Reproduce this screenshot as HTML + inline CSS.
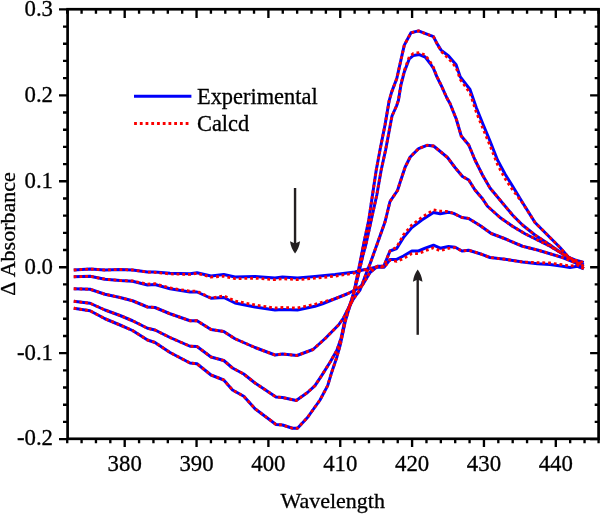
<!DOCTYPE html>
<html><head><meta charset="utf-8"><title>Chart</title>
<style>
html,body{margin:0;padding:0;background:#fff;}
body{width:600px;height:514px;overflow:hidden;font-family:"Liberation Serif",serif;}
svg{display:block;}
</style></head><body>
<svg width="600" height="514" viewBox="0 0 600 514">
<defs><filter id="idf" x="0" y="0" width="600" height="514" filterUnits="userSpaceOnUse" color-interpolation-filters="sRGB"><feOffset dx="0" dy="0"/></filter></defs>
<rect width="600" height="514" fill="#fff"/>
<g fill="none" stroke-linejoin="round" stroke-linecap="butt">
<path d="M73.75 270.00 L90.00 269.00 L105.00 270.00 L120.00 269.50 L132.50 270.00 L147.50 272.00 L155.00 272.00 L170.00 273.25 L190.00 273.75 L197.00 272.70 L211.00 276.00 L223.75 274.50 L235.00 277.00 L255.00 276.50 L275.00 278.00 L282.50 277.00 L297.50 278.00 L315.00 276.50 L335.00 274.50 L355.00 272.00 L362.50 270.00 L370.00 268.75 L376.25 267.00 L384.20 267.20 L390.00 259.60 L396.70 259.40 L403.40 256.00 L411.80 251.00 L418.50 251.00 L425.20 248.20 L433.50 245.20 L440.20 248.20 L448.50 246.50 L455.20 247.20 L462.00 251.00 L468.60 250.20 L480.00 253.70 L490.00 257.50 L505.00 259.25 L522.50 262.00 L537.50 263.75 L550.00 264.50 L562.50 266.25 L570.00 267.50 L577.50 266.25 L583.75 268.75" stroke="#0000fa" stroke-width="3.0"/>
<path d="M73.75 276.75 L90.00 276.25 L105.00 279.25 L120.00 280.50 L132.50 281.25 L147.50 285.00 L155.00 284.50 L170.00 288.75 L190.00 292.00 L197.00 292.00 L211.00 298.25 L223.75 297.50 L235.00 303.00 L255.00 307.00 L275.00 310.00 L282.50 309.50 L297.50 310.00 L315.00 306.25 L322.50 303.75 L335.00 298.75 L347.50 293.75 L355.00 290.00 L362.50 285.00 L370.00 272.50 L377.50 266.25 L383.75 266.25 L390.00 251.00 L396.70 248.50 L403.40 237.60 L411.80 227.60 L421.80 220.00 L433.50 212.50 L440.20 213.70 L448.50 212.20 L453.60 213.40 L462.00 217.50 L468.60 218.40 L480.00 225.50 L491.25 233.50 L505.00 238.75 L522.50 246.25 L537.50 250.00 L550.00 253.75 L562.50 257.50 L575.00 262.50 L583.75 268.75" stroke="#0000fa" stroke-width="3.0"/>
<path d="M73.75 288.75 L90.00 289.25 L105.00 294.25 L120.00 297.50 L132.50 300.75 L147.50 307.00 L155.00 307.50 L170.00 313.75 L190.00 320.75 L197.00 320.75 L211.00 329.50 L223.75 331.50 L235.00 338.75 L255.00 347.50 L275.00 355.00 L282.50 354.00 L297.00 355.50 L313.00 349.50 L325.20 338.50 L338.50 325.00 L343.50 318.00 L348.00 309.00 L352.50 300.50 L356.50 294.50 L360.00 290.00 L367.50 270.00 L370.00 264.00 L377.50 243.00 L385.00 222.00 L390.00 201.50 L397.50 190.50 L400.20 182.00 L405.20 167.00 L410.20 157.00 L418.60 148.60 L426.90 145.30 L433.60 146.00 L440.00 151.25 L447.50 157.50 L455.00 167.50 L462.50 176.50 L468.75 180.00 L475.00 190.00 L482.50 198.75 L487.50 206.25 L500.00 217.50 L512.50 226.25 L525.00 233.75 L537.50 240.00 L550.00 246.25 L562.50 253.75 L575.00 261.25 L583.75 266.25" stroke="#0000fa" stroke-width="3.0"/>
<path d="M73.75 301.25 L90.00 303.25 L105.00 310.00 L120.00 315.50 L132.50 320.75 L147.50 328.25 L155.00 330.00 L170.00 337.50 L190.00 346.25 L197.00 346.50 L211.00 357.00 L223.75 360.50 L232.50 368.00 L243.75 374.00 L255.00 383.00 L276.00 397.00 L282.50 397.50 L296.25 400.50 L307.50 392.50 L315.00 385.60 L321.80 375.30 L330.20 362.00 L336.90 350.20 L341.00 338.50 L344.40 322.50 L346.90 313.40 L351.50 300.00 L355.00 289.00 L359.50 270.00 L363.00 255.00 L366.25 243.00 L371.25 220.00 L376.80 195.00 L381.20 170.00 L385.60 150.00 L390.30 125.00 L392.00 116.00 L396.50 106.00 L398.40 100.60 L400.90 85.20 L404.30 71.90 L409.30 58.80 L413.50 55.40 L419.30 54.60 L425.20 57.00 L430.20 63.50 L433.50 68.50 L436.90 76.90 L441.10 85.20 L446.90 98.00 L450.00 103.50 L456.25 119.00 L461.25 136.00 L468.75 145.00 L475.00 160.00 L482.50 175.00 L490.00 188.00 L500.00 200.00 L512.50 215.00 L522.50 225.00 L535.00 235.00 L550.00 245.00 L562.50 253.75 L575.00 261.25 L583.75 265.00" stroke="#0000fa" stroke-width="3.0"/>
<path d="M73.75 308.25 L90.00 310.75 L105.00 318.75 L120.00 325.00 L132.50 330.50 L147.50 340.00 L155.00 342.50 L170.00 352.50 L190.00 363.00 L197.00 363.75 L211.00 375.00 L223.75 380.00 L232.50 390.00 L243.75 396.25 L255.00 408.75 L276.00 424.50 L282.50 425.00 L292.50 428.25 L297.50 428.25 L307.50 417.50 L320.00 400.00 L327.70 385.60 L331.80 371.90 L336.90 356.90 L340.20 345.20 L342.70 333.40 L345.20 321.70 L348.60 310.00 L352.20 299.50 L355.00 287.00 L358.50 270.00 L361.50 255.00 L364.50 240.00 L368.75 220.00 L372.50 195.00 L376.25 170.00 L380.00 150.00 L385.00 125.00 L389.20 100.60 L391.70 91.90 L396.80 78.50 L400.90 60.20 L404.30 45.10 L411.00 32.80 L418.50 30.90 L426.90 34.20 L433.50 36.70 L436.90 43.40 L441.10 50.10 L448.60 56.00 L456.10 64.80 L460.30 76.90 L470.00 89.50 L476.25 107.50 L482.50 123.00 L490.00 141.00 L497.50 160.00 L505.00 174.00 L512.50 186.00 L522.50 202.50 L535.00 222.50 L547.50 235.00 L560.00 247.50 L568.75 257.50 L575.00 260.00 L583.75 262.50" stroke="#0000fa" stroke-width="3.0"/>
<path d="M73.75 270.00 L90.00 269.00 L105.00 270.00 L120.00 269.50 L132.50 270.00 L147.50 272.00 L155.00 272.41 L170.00 273.95 L190.00 274.45 L197.00 273.28 L211.00 277.13 L223.75 276.20 L235.00 278.70 L255.00 278.20 L275.00 279.70 L282.50 278.70 L297.50 279.70 L315.00 278.20 L335.00 276.20 L355.00 272.99 L362.50 270.00 L370.00 268.75 L376.25 267.00 L384.20 267.20 L390.00 260.03 L396.70 261.28 L403.40 258.60 L411.80 253.60 L418.50 253.60 L425.20 250.80 L433.50 247.80 L440.20 250.80 L448.50 248.34 L455.20 247.59 L462.00 251.00 L468.60 250.20 L480.00 253.70 L490.00 257.50 L505.00 259.25 L522.50 262.00 L537.50 262.56 L550.00 263.00 L562.50 264.75 L570.00 266.00 L577.50 265.06 L583.75 268.34" stroke="#fa0000" stroke-width="2.8" stroke-dasharray="2.8 2.93"/>
<path d="M73.75 276.75 L90.00 276.25 L105.00 279.25 L120.00 280.50 L132.50 280.95 L147.50 284.20 L155.00 283.70 L170.00 287.95 L190.00 291.20 L197.00 291.20 L211.00 298.18 L223.75 295.71 L235.00 301.00 L255.00 305.00 L275.00 308.00 L282.50 307.50 L297.50 308.00 L315.00 304.25 L322.50 302.17 L335.00 298.75 L347.50 293.75 L355.00 290.00 L362.50 285.00 L370.00 272.50 L377.50 266.25 L383.75 266.25 L390.00 251.00 L396.70 247.05 L403.40 235.00 L411.80 225.00 L421.80 217.40 L433.50 209.90 L440.20 211.14 L448.50 211.44 L453.60 213.40 L462.00 217.50 L468.60 218.40 L480.00 225.50 L491.25 233.50 L505.00 238.75 L522.50 246.25 L537.50 250.00 L550.00 253.75 L562.50 257.50 L575.00 262.50 L583.75 268.75" stroke="#fa0000" stroke-width="2.8" stroke-dasharray="2.8 2.93"/>
<path d="M73.75 288.75 L90.00 289.25 L105.00 294.25 L120.00 297.50 L132.50 300.75 L147.50 307.00 L155.00 307.50 L170.00 313.75 L190.00 320.75 L197.00 320.75 L211.00 329.50 L223.75 331.50 L235.00 338.75 L255.00 347.50 L275.00 355.00 L282.50 354.00 L297.00 355.50 L313.00 349.50 L325.20 338.50 L338.50 325.00 L343.50 318.00 L348.00 309.00 L352.50 300.50 L356.50 294.50 L360.00 290.00 L367.50 270.00 L370.00 264.00 L377.50 243.00 L385.00 222.00 L390.00 201.50 L397.50 190.50 L400.20 182.00 L405.20 167.00 L410.20 157.00 L418.60 148.60 L426.90 145.30 L433.60 146.00 L440.00 151.25 L447.50 157.50 L455.00 167.50 L462.50 176.50 L468.75 180.00 L475.00 190.00 L482.50 198.75 L487.50 206.25 L500.00 217.50 L512.50 226.25 L525.00 233.75 L537.50 240.00 L550.00 246.25 L562.50 253.75 L575.00 261.25 L583.75 266.25" stroke="#fa0000" stroke-width="2.8" stroke-dasharray="2.8 2.93"/>
<path d="M73.75 301.25 L90.00 303.25 L105.00 310.00 L120.00 315.50 L132.50 320.75 L147.50 328.25 L155.00 330.00 L170.00 337.50 L190.00 346.25 L197.00 346.50 L211.00 357.00 L223.75 360.50 L232.50 368.00 L243.75 374.00 L255.00 383.00 L276.00 397.00 L282.50 397.50 L296.25 400.50 L307.50 392.50 L315.00 385.60 L321.80 375.30 L330.20 362.00 L336.90 350.20 L341.00 338.50 L344.40 322.50 L346.90 313.40 L351.50 300.00 L355.00 289.00 L359.50 270.00 L363.00 255.00 L366.25 243.00 L371.25 220.00 L376.80 195.00 L381.20 170.00 L385.60 150.00 L390.30 125.00 L392.00 116.00 L396.50 105.92 L398.40 100.20 L400.90 84.38 L404.30 70.52 L409.30 56.80 L413.50 53.40 L419.30 52.60 L425.20 55.00 L430.20 61.87 L433.50 67.42 L436.90 76.38 L441.10 85.20 L446.90 98.00 L450.00 103.50 L456.25 119.00 L461.25 136.00 L468.75 145.00 L475.00 160.00 L482.50 175.00 L490.00 188.00 L500.00 200.00 L512.50 215.00 L522.50 225.00 L535.00 235.00 L550.00 245.00 L562.50 253.75 L575.00 261.25 L583.75 265.00" stroke="#fa0000" stroke-width="2.8" stroke-dasharray="2.8 2.93"/>
<path d="M73.75 308.25 L90.00 310.75 L105.00 318.75 L120.00 325.00 L132.50 330.50 L147.50 340.00 L155.00 342.50 L170.00 352.50 L190.00 363.00 L197.00 363.75 L211.00 375.00 L223.75 380.00 L232.50 390.00 L243.75 396.25 L255.00 408.75 L276.00 424.50 L282.50 425.00 L292.50 428.25 L297.50 428.25 L307.50 417.50 L320.00 400.00 L327.70 385.60 L331.80 371.90 L336.90 356.90 L340.20 345.20 L342.70 333.40 L345.20 321.70 L348.60 310.00 L352.20 299.50 L355.00 287.00 L358.50 270.00 L361.50 255.00 L364.50 240.00 L368.75 220.00 L372.50 195.00 L376.25 170.00 L380.00 150.00 L385.00 125.00 L389.20 100.60 L391.70 91.90 L396.80 78.50 L400.90 60.20 L404.30 45.10 L411.00 32.80 L418.50 30.90 L426.90 34.20 L433.50 36.70 L436.90 43.59 L441.10 51.21 L448.60 58.60 L456.10 67.40 L460.30 79.50 L470.00 93.05 L476.25 112.00 L482.50 127.50 L490.00 145.50 L497.50 164.50 L505.00 178.50 L512.50 189.68 L522.50 202.82 L535.00 222.50 L547.50 235.00 L560.00 247.50 L568.75 257.50 L575.00 260.00 L583.75 262.50" stroke="#fa0000" stroke-width="2.8" stroke-dasharray="2.8 2.93"/>
</g>
<g stroke="#000" stroke-width="2.7" fill="none" stroke-linecap="butt">
<rect x="67.60" y="9.25" width="531.00" height="429.55"/>
<path stroke-width="2.35" d="M67.22 438.80 v4.40 M67.22 9.25 v4.40 M81.59 438.80 v4.40 M81.59 9.25 v4.40 M95.96 438.80 v4.40 M95.96 9.25 v4.40 M110.33 438.80 v4.40 M110.33 9.25 v4.40 M124.70 438.80 v8.20 M124.70 9.25 v8.70 M139.07 438.80 v4.40 M139.07 9.25 v4.40 M153.44 438.80 v4.40 M153.44 9.25 v4.40 M167.81 438.80 v4.40 M167.81 9.25 v4.40 M182.18 438.80 v4.40 M182.18 9.25 v4.40 M196.55 438.80 v8.20 M196.55 9.25 v8.70 M210.92 438.80 v4.40 M210.92 9.25 v4.40 M225.29 438.80 v4.40 M225.29 9.25 v4.40 M239.66 438.80 v4.40 M239.66 9.25 v4.40 M254.03 438.80 v4.40 M254.03 9.25 v4.40 M268.40 438.80 v8.20 M268.40 9.25 v8.70 M282.77 438.80 v4.40 M282.77 9.25 v4.40 M297.14 438.80 v4.40 M297.14 9.25 v4.40 M311.51 438.80 v4.40 M311.51 9.25 v4.40 M325.88 438.80 v4.40 M325.88 9.25 v4.40 M340.25 438.80 v8.20 M340.25 9.25 v8.70 M354.62 438.80 v4.40 M354.62 9.25 v4.40 M368.99 438.80 v4.40 M368.99 9.25 v4.40 M383.36 438.80 v4.40 M383.36 9.25 v4.40 M397.73 438.80 v4.40 M397.73 9.25 v4.40 M412.10 438.80 v8.20 M412.10 9.25 v8.70 M426.47 438.80 v4.40 M426.47 9.25 v4.40 M440.84 438.80 v4.40 M440.84 9.25 v4.40 M455.21 438.80 v4.40 M455.21 9.25 v4.40 M469.58 438.80 v4.40 M469.58 9.25 v4.40 M483.95 438.80 v8.20 M483.95 9.25 v8.70 M498.32 438.80 v4.40 M498.32 9.25 v4.40 M512.69 438.80 v4.40 M512.69 9.25 v4.40 M527.06 438.80 v4.40 M527.06 9.25 v4.40 M541.43 438.80 v4.40 M541.43 9.25 v4.40 M555.80 438.80 v8.20 M555.80 9.25 v8.70 M570.17 438.80 v4.40 M570.17 9.25 v4.40 M584.54 438.80 v4.40 M584.54 9.25 v4.40 M598.60 438.80 v4.40 M598.60 9.25 v4.40 M67.60 439.08 h-8.60 M598.60 439.08 h-8.50 M67.60 421.89 h-4.60 M598.60 421.89 h-3.90 M67.60 404.70 h-4.60 M598.60 404.70 h-3.90 M67.60 387.52 h-4.60 M598.60 387.52 h-3.90 M67.60 370.33 h-4.60 M598.60 370.33 h-3.90 M67.60 353.14 h-8.60 M598.60 353.14 h-8.50 M67.60 335.95 h-4.60 M598.60 335.95 h-3.90 M67.60 318.76 h-4.60 M598.60 318.76 h-3.90 M67.60 301.58 h-4.60 M598.60 301.58 h-3.90 M67.60 284.39 h-4.60 M598.60 284.39 h-3.90 M67.60 267.20 h-8.60 M598.60 267.20 h-8.50 M67.60 250.01 h-4.60 M598.60 250.01 h-3.90 M67.60 232.82 h-4.60 M598.60 232.82 h-3.90 M67.60 215.64 h-4.60 M598.60 215.64 h-3.90 M67.60 198.45 h-4.60 M598.60 198.45 h-3.90 M67.60 181.26 h-8.60 M598.60 181.26 h-8.50 M67.60 164.07 h-4.60 M598.60 164.07 h-3.90 M67.60 146.88 h-4.60 M598.60 146.88 h-3.90 M67.60 129.70 h-4.60 M598.60 129.70 h-3.90 M67.60 112.51 h-4.60 M598.60 112.51 h-3.90 M67.60 95.32 h-8.60 M598.60 95.32 h-8.50 M67.60 78.13 h-4.60 M598.60 78.13 h-3.90 M67.60 60.94 h-4.60 M598.60 60.94 h-3.90 M67.60 43.76 h-4.60 M598.60 43.76 h-3.90 M67.60 26.57 h-4.60 M598.60 26.57 h-3.90 M67.60 9.38 h-8.60 M598.60 9.38 h-8.50"/>
</g>
<g font-family="'Liberation Serif', serif" font-size="22.8px" fill="#000" stroke="#000" stroke-width="0.3" filter="url(#idf)">
<text x="124.70" y="470.9" text-anchor="middle">380</text>
<text x="196.55" y="470.9" text-anchor="middle">390</text>
<text x="268.40" y="470.9" text-anchor="middle">400</text>
<text x="340.25" y="470.9" text-anchor="middle">410</text>
<text x="412.10" y="470.9" text-anchor="middle">420</text>
<text x="483.95" y="470.9" text-anchor="middle">430</text>
<text x="555.80" y="470.9" text-anchor="middle">440</text>
<text x="53" y="15.78" text-anchor="end">0.3</text>
<text x="53" y="101.72" text-anchor="end">0.2</text>
<text x="53" y="187.66" text-anchor="end">0.1</text>
<text x="53" y="273.60" text-anchor="end">0.0</text>
<text x="53" y="359.54" text-anchor="end">-0.1</text>
<text x="53" y="445.48" text-anchor="end">-0.2</text>
<text x="332.7" y="507.8" text-anchor="middle" font-size="22px">Wavelength</text>
<text transform="translate(15.3 234) rotate(-90)" text-anchor="middle" font-size="22px">Δ Absorbance</text>
<text x="197" y="104" font-size="22.4px">Experimental</text>
<text x="197" y="130.8" font-size="22.4px">Calcd</text>
</g>
<path d="M134 96.2 H191.4" stroke="#0000fa" stroke-width="3.0" fill="none"/>
<path d="M134.1 123.5 H188.5" stroke="#fa0000" stroke-width="2.8" stroke-dasharray="2.8 2.93" fill="none"/>
<g fill="#231f20" stroke="none">
<rect x="293.85" y="188" width="2.4" height="57"/>
<path d="M295.05 253.4 Q291 248.3 290 241.2 L295.05 243.6 L300.1 241.2 Q299.1 248.3 295.05 253.4Z"/>
<rect x="416.5" y="278" width="2.4" height="56.8"/>
<path d="M417.7 269.6 Q413.8 274.7 412.9 281.8 L417.7 279.4 L422.5 281.8 Q421.6 274.7 417.7 269.6Z"/>
</g>
</svg>
</body></html>
